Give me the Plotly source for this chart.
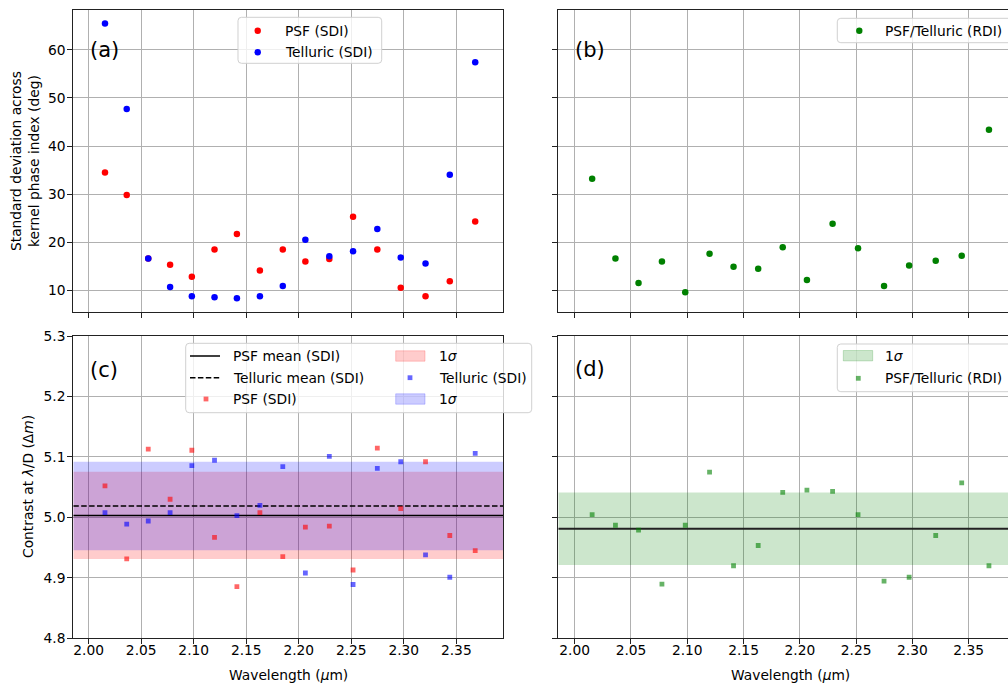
import plotly.graph_objects as go

# ---------------- data ----------------
wavelength = [2.0155, 2.0362, 2.0567, 2.0775, 2.0982, 2.1198, 2.1411, 2.1630, 2.1848,
              2.2063, 2.2291, 2.2517, 2.2748, 2.2971, 2.3207, 2.3438, 2.3680]

std_psf_sdi = [34.5, 29.8, 16.6, 15.3, 12.8, 18.5, 21.7, 14.1, 18.5,
               16.0, 16.5, 25.3, 18.5, 10.5, 8.75, 11.9, 24.3]
std_tell_sdi = [65.5, 47.7, 16.6, 10.7, 8.75, 8.55, 8.35, 8.75, 10.9,
                20.5, 17.1, 18.1, 22.75, 16.8, 15.55, 34.05, 57.45]
std_rdi = [33.2, 16.6, 11.5, 16.0, 9.6, 17.6, 14.9, 14.5, 18.95,
           12.15, 23.85, 18.75, 10.9, 15.15, 16.15, 17.2, 43.4]

con_psf_sdi = [5.052, 4.9315, 5.113, 5.030, 5.111, 4.967, 4.8855, 5.008, 4.935,
               4.984, 4.9855, 4.913, 5.1145, 5.0145, 5.092, 4.970, 4.945]
con_tell_sdi = [5.008, 4.989, 4.994, 5.008, 5.0855, 5.0945, 5.003, 5.020, 5.084,
                4.908, 5.101, 4.889, 5.081, 5.092, 4.938, 4.901, 5.106]
con_rdi = [5.0045, 4.987, 4.979, 4.8895, 4.987, 5.075, 4.920, 4.9535, 5.0415,
           5.045, 5.043, 5.0045, 4.8945, 4.901, 4.970, 5.057, 4.920]

# means and 1-sigma widths (PSF SDI, Telluric SDI, RDI)
con_means = [5.0033, 5.0188, 4.9812]
con_sigmas = [0.0723, 0.0732, 0.0600]

x_ticks = [2.00, 2.05, 2.10, 2.15, 2.20, 2.25, 2.30, 2.35]
std_ticks = [10, 20, 30, 40, 50, 60]
con_ticks = [4.8, 4.9, 5.0, 5.1, 5.2, 5.3]

# ---------------- geometry ----------------
W, H = 1008, 684
FONT = "DejaVu Sans"
FS = 13.8


def px(x):
    return x / W


def py(y):
    return 1 - y / H


XA = [73.3 / W, 503.0 / W]
XB = [558.3 / W, 1.0]
YT = [py(312.0), py(10.0)]
YB = [py(638.3), py(336.0)]
XR_L = [1.98534, 2.39446]
XR_R = [1.98543, 2.38492]
YR_STD = [5.48, 68.3]
YR_CON = [4.8, 5.3]

RED = "#ff0000"
BLUE = "#0000ff"
GREEN = "#008000"

fig = go.Figure()

# ---------------- (a) ----------------
fig.add_trace(go.Scatter(x=wavelength, y=std_psf_sdi, mode="markers", name="PSF (SDI)",
                         marker=dict(color=RED, size=6.5, line=dict(width=0)),
                         xaxis="x", yaxis="y", showlegend=False))
fig.add_trace(go.Scatter(x=wavelength, y=std_tell_sdi, mode="markers", name="Telluric (SDI)",
                         marker=dict(color=BLUE, size=6.5, line=dict(width=0)),
                         xaxis="x", yaxis="y", showlegend=False))

# ---------------- (b) ----------------
fig.add_trace(go.Scatter(x=wavelength, y=std_rdi, mode="markers", name="PSF/Telluric (RDI)",
                         marker=dict(color=GREEN, size=6.5, line=dict(width=0)),
                         xaxis="x2", yaxis="y2", showlegend=False))


# ---------------- (c) ----------------
def band(xr, m, s, color, ax, ay, name):
    return go.Scatter(x=[xr[0], xr[1], xr[1], xr[0], xr[0]],
                      y=[m - s, m - s, m + s, m + s, m - s],
                      mode="lines", fill="toself", fillcolor=color,
                      line=dict(width=0), hoverinfo="skip", name=name,
                      xaxis=ax, yaxis=ay, showlegend=False)


fig.add_trace(band(XR_L, con_means[0], con_sigmas[0], "rgba(255,0,0,0.2)", "x3", "y3", "1σ PSF"))
fig.add_trace(band(XR_L, con_means[1], con_sigmas[1], "rgba(0,0,255,0.2)", "x3", "y3", "1σ Telluric"))
fig.add_trace(go.Scatter(x=XR_L, y=[con_means[0]] * 2, mode="lines", name="PSF mean (SDI)",
                         line=dict(color="black", width=1.5), xaxis="x3", yaxis="y3", showlegend=False))
fig.add_trace(go.Scatter(x=XR_L, y=[con_means[1]] * 2, mode="lines", name="Telluric mean (SDI)",
                         line=dict(color="black", width=1.5, dash="5.5px,2.4px"),
                         xaxis="x3", yaxis="y3", showlegend=False))
fig.add_trace(go.Scatter(x=wavelength, y=con_psf_sdi, mode="markers", name="PSF (SDI)",
                         marker=dict(color="rgba(255,0,0,0.6)", size=4.8, symbol="square", line=dict(width=0)),
                         xaxis="x3", yaxis="y3", showlegend=False))
fig.add_trace(go.Scatter(x=wavelength, y=con_tell_sdi, mode="markers", name="Telluric (SDI)",
                         marker=dict(color="rgba(0,0,255,0.6)", size=4.8, symbol="square", line=dict(width=0)),
                         xaxis="x3", yaxis="y3", showlegend=False))

# ---------------- (d) ----------------
fig.add_trace(band(XR_R, con_means[2], con_sigmas[2], "rgba(0,128,0,0.2)", "x4", "y4", "1σ RDI"))
fig.add_trace(go.Scatter(x=XR_R, y=[con_means[2]] * 2, mode="lines", name="RDI mean",
                         line=dict(color="#222222", width=1.8), xaxis="x4", yaxis="y4", showlegend=False))
fig.add_trace(go.Scatter(x=wavelength, y=con_rdi, mode="markers", name="PSF/Telluric (RDI)",
                         marker=dict(color="rgba(0,128,0,0.6)", size=4.8, symbol="square", line=dict(width=0)),
                         xaxis="x4", yaxis="y4", showlegend=False))

# ---------------- axes ----------------
base = dict(showline=True, linecolor="#222222", linewidth=1, ticks="outside", ticklen=5,
            tickwidth=1, tickcolor="#222222", showgrid=True, gridcolor="#b0b0b0", gridwidth=1,
            zeroline=False, automargin=False,
            tickfont=dict(family=FONT, size=FS, color="black"))

fig.update_layout(
    xaxis=dict(base, domain=XA, range=XR_L, anchor="y", tickvals=x_ticks,
               showticklabels=False, mirror=True),
    yaxis=dict(base, domain=YT, range=YR_STD, anchor="x", tickvals=std_ticks, mirror=True,
               ticklabelstandoff=-1),
    xaxis2=dict(base, domain=XB, range=XR_R, anchor="y2", tickvals=x_ticks,
                showticklabels=False, mirror=True),
    yaxis2=dict(base, domain=YT, range=YR_STD, anchor="x2", tickvals=std_ticks,
                showticklabels=False, mirror=False),
    xaxis3=dict(base, domain=XA, range=XR_L, anchor="y3", tickvals=x_ticks,
                tickformat=".2f", mirror=True, ticklabelstandoff=-6),
    yaxis3=dict(base, domain=YB, range=YR_CON, anchor="x3", tickvals=con_ticks,
                tickformat=".1f", mirror=True, ticklabelstandoff=-1),
    xaxis4=dict(base, domain=XB, range=XR_R, anchor="y4", tickvals=x_ticks,
                tickformat=".2f", mirror=True, ticklabelstandoff=-6),
    yaxis4=dict(base, domain=YB, range=YR_CON, anchor="x4", tickvals=con_ticks,
                showticklabels=False, mirror=False),
)

# ---------------- annotations & legend drawing ----------------
annotations = []
shapes = []


def text(x, y, s, size=FS, xanchor="left", angle=0):
    annotations.append(dict(x=px(x), y=py(y), xref="paper", yref="paper", text=s,
                            showarrow=False, xanchor=xanchor, yanchor="middle",
                            textangle=angle, align="center",
                            font=dict(family=FONT, size=size, color="black")))


def rbox(x0, y0, x1, y1, r=3.5):
    pts = [("M", x0 + r, y0), ("L", x1 - r, y0), ("Q", x1, y0, x1, y0 + r), ("L", x1, y1 - r),
           ("Q", x1, y1, x1 - r, y1), ("L", x0 + r, y1), ("Q", x0, y1, x0, y1 - r),
           ("L", x0, y0 + r), ("Q", x0, y0, x0 + r, y0)]
    d = ""
    for p in pts:
        cmd = p[0]
        coords = p[1:]
        seg = []
        for i in range(0, len(coords), 2):
            seg.append(f"{px(coords[i]):.5f},{py(coords[i + 1]):.5f}")
        d += cmd + " " + " ".join(seg) + " "
    shapes.append(dict(type="path", path=d + "Z", xref="paper", yref="paper",
                       fillcolor="rgba(255,255,255,0.8)", line=dict(color="#d0d0d0", width=1),
                       layer="above"))


def circ(cx, cy, color, r=3.2):
    shapes.append(dict(type="circle", xref="paper", yref="paper",
                       x0=px(cx - r), x1=px(cx + r), y0=py(cy + r), y1=py(cy - r),
                       fillcolor=color, line=dict(width=0), layer="above"))


def sq(cx, cy, color, h=2.4):
    shapes.append(dict(type="rect", xref="paper", yref="paper",
                       x0=px(cx - h), x1=px(cx + h), y0=py(cy + h), y1=py(cy - h),
                       fillcolor=color, line=dict(width=0), layer="above"))


def patch(x0, x1, cy, color, h=5.2):
    shapes.append(dict(type="rect", xref="paper", yref="paper",
                       x0=px(x0), x1=px(x1), y0=py(cy + h), y1=py(cy - h),
                       fillcolor=color, line=dict(color=color, width=1), layer="above"))


def hline(x0, x1, cy, dash="solid"):
    shapes.append(dict(type="line", xref="paper", yref="paper",
                       x0=px(x0), x1=px(x1), y0=py(cy), y1=py(cy),
                       line=dict(color="black", width=1.5, dash=dash), layer="above"))


# panel labels
text(88, 50, "(a)", size=21)
text(573.3, 50, "(b)", size=21)
text(88, 370, "(c)", size=21)
text(573.3, 369, "(d)", size=21)

# axis titles
text(25, 161, "Standard deviation across<br>kernel phase index (deg)", xanchor="center", angle=-90)
text(28, 487, "Contrast at <i>λ</i>/D (Δ<i>m</i>)", xanchor="center", angle=-90)
text(288, 675, "Wavelength (<i>μ</i>m)", xanchor="center")
text(790, 675, "Wavelength (<i>μ</i>m)", xanchor="center")

# legend (a)
rbox(238, 17.3, 381.7, 63.3)
circ(257.7, 30.7, RED)
circ(257.7, 52.3, BLUE)
text(283.3, 30.7, "PSF (SDI)")
text(283.3, 52.3, "Telluric (SDI)")

# legend (b)
rbox(837.3, 18.3, 1030, 42.7)
circ(859.3, 30.7, GREEN)
text(883.3, 30.7, "PSF/Telluric (RDI)")

# legend (c)
rbox(185.7, 343.3, 531.7, 412.7)
hline(190, 220, 356)
hline(190, 220, 377.7, dash="5.5px,2.4px")
sq(206, 399, "rgba(255,0,0,0.6)")
text(231, 356, "PSF mean (SDI)")
text(231, 377.7, "Telluric mean (SDI)")
text(231, 399, "PSF (SDI)")
patch(395.7, 425, 356, "rgba(255,0,0,0.2)")
sq(410, 377.7, "rgba(0,0,255,0.6)")
patch(395.7, 425, 399, "rgba(0,0,255,0.2)")
text(436.7, 356, "1<i>σ</i>")
text(436.7, 377.7, "Telluric (SDI)")
text(436.7, 399, "1<i>σ</i>")

# legend (d)
rbox(837.3, 344, 1030, 391.7)
patch(843.3, 872.7, 355.7, "rgba(0,128,0,0.2)")
sq(858.3, 378.3, "rgba(0,128,0,0.6)")
text(883.3, 355.7, "1<i>σ</i>")
text(883.3, 378.3, "PSF/Telluric (RDI)")

fig.update_layout(
    width=W, height=H,
    margin=dict(l=0, r=0, t=0, b=0),
    paper_bgcolor="white", plot_bgcolor="white",
    showlegend=False,
    font=dict(family=FONT, size=FS, color="black"),
    annotations=annotations,
    shapes=shapes,
)

fig.write_html("out.html", config={"displayModeBar": False},
               post_script="document.body.style.margin='0px';")
